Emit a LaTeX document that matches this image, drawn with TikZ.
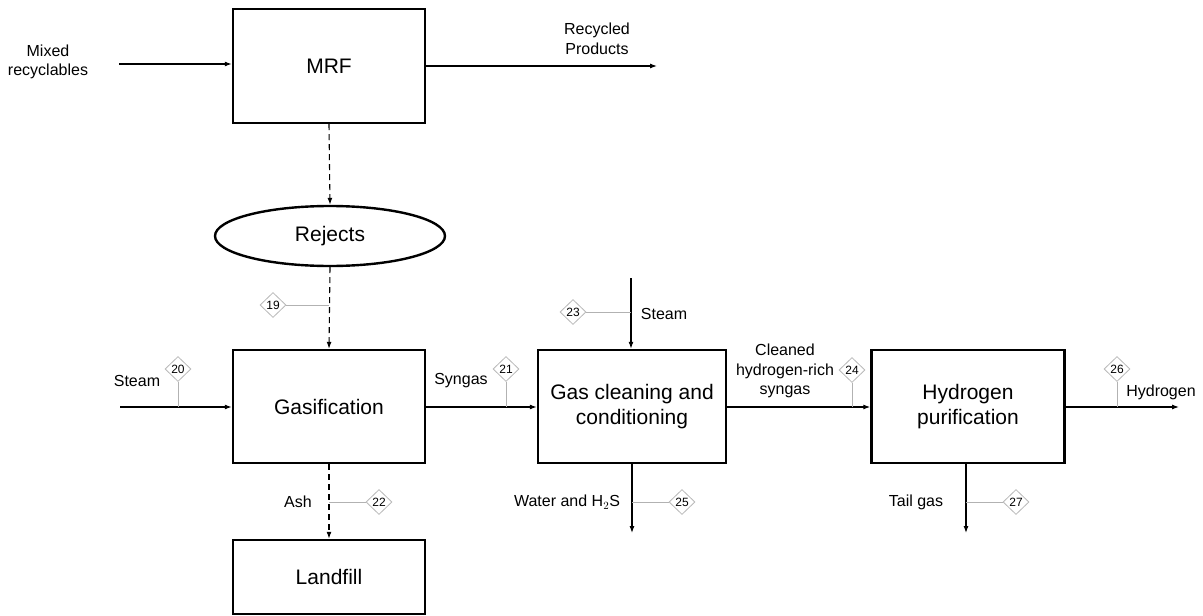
\documentclass[tikz,border=0pt]{standalone}
\usepackage{fontspec}
\setmainfont{Liberation Sans}
\usetikzlibrary{shapes.geometric,arrows.meta}
\begin{document}
\begin{tikzpicture}[x=1pt,y=-1pt,
  box/.style={draw,line width=2.4pt,inner sep=0pt,font=\fontsize{21}{25}\selectfont,align=center},
  flow/.style={line width=1.1pt,-{Latex[length=7pt,width=5pt]}},
  dflow/.style={flow,dash pattern=on 6pt off 4pt},
  lbl/.style={font=\fontsize{16}{19.5}\selectfont,align=center,inner sep=0pt},
  tag/.style={diamond,draw=gray!55,line width=0.8pt,inner sep=0pt,minimum width=26pt,minimum height=25pt,font=\fontsize{12}{12}\selectfont,fill=white},
  tagline/.style={draw=gray!60,line width=0.9pt}]
\useasboundingbox (0,0) rectangle (1203,616);
% process boxes
\node[box,minimum width=192pt,minimum height=114pt] (mrf) at (329,66) {MRF};
\node[draw,ellipse,line width=2.4pt,minimum width=230pt,minimum height=60pt,font=\fontsize{21}{25}\selectfont] (rej) at (330,236) {Rejects};
\node[box,minimum width=192pt,minimum height=113pt] (gas) at (329,406.5) {Gasification};
\node[box,minimum width=192pt,minimum height=74pt] (land) at (329,577) {Landfill};
\node[box,minimum width=188pt,minimum height=113pt] (gcc) at (632,406.5) {Gas cleaning and\\conditioning};
\node[box,minimum width=193pt,minimum height=113pt] (hp) at (968,406.5) {Hydrogen\\purification};
% free ends
\coordinate (mixin) at (119,64);
\coordinate (recout) at (657,66);
\coordinate (stin) at (120,407);
\coordinate (st2in) at (631,278);
\coordinate (wout) at (632,533);
\coordinate (tout) at (966,533);
\coordinate (hout) at (1179,407);
% flows
\draw[flow] (mixin) -- (mixin -| mrf.west);
\draw[flow] (mrf.east |- recout) -- (recout);
\draw[dflow] (mrf.south) -- (rej.north);
\draw[dflow] (rej.south) -- (gas.north);
\draw[flow] (stin) -- (stin -| gas.west);
\draw[flow] (gas.east |- 0,407) -- (gcc.west |- 0,407);
\draw[flow] (st2in) -- (st2in |- gcc.north);
\draw[flow] (gcc.east |- 0,407) -- (hp.west |- 0,407);
\draw[flow] (hp.east |- hout) -- (hout);
\draw[dflow] (gas.south) -- (land.north);
\draw[flow] (wout |- gcc.south) -- (wout);
\draw[flow] (tout |- hp.south) -- (tout);
% labels
\node[lbl] (l1) at (48,62) {Mixed\\recyclables};
\node[lbl] (l2) at (597,39) {Recycled\\Products};
\node[lbl] (l3) at (137,381) {Steam};
\node[lbl] (l4) at (461,381) {Syngas};
\node[lbl] (l5) at (664,314) {Steam};
\node[lbl] (l6) at (785,371) {Cleaned\\hydrogen-rich\\syngas};
\node[lbl] (l7) at (1161,392) {Hydrogen};
\node[lbl] (l8) at (298,502) {Ash};
\node[lbl] (l9) at (567,502) {Water and H$_2$S};
\node[lbl] (l10) at (916,502) {Tail gas};
% stream tags
\coordinate (p19) at (329,305);
\coordinate (p20) at (178,407);
\coordinate (p21) at (506,407);
\coordinate (p22) at (329,502);
\coordinate (p23) at (631,312);
\coordinate (p24) at (852,407);
\coordinate (p25) at (632,502);
\coordinate (p26) at (1117,407);
\coordinate (p27) at (966,502);
\node[tag] (t19) at (273,305) {19};
\node[tag] (t20) at (178,369) {20};
\node[tag] (t21) at (506,369) {21};
\node[tag] (t22) at (379,502) {22};
\node[tag] (t23) at (573,312) {23};
\node[tag] (t24) at (852,370) {24};
\node[tag] (t25) at (682,502) {25};
\node[tag] (t26) at (1117,369) {26};
\node[tag] (t27) at (1016,502) {27};
\draw[tagline] (t19) -- (p19);
\draw[tagline] (t20) -- (p20);
\draw[tagline] (t21) -- (p21);
\draw[tagline] (t22) -- (p22);
\draw[tagline] (t23) -- (p23);
\draw[tagline] (t24) -- (p24);
\draw[tagline] (t25) -- (p25);
\draw[tagline] (t26) -- (p26);
\draw[tagline] (t27) -- (p27);
\end{tikzpicture}
\end{document}
